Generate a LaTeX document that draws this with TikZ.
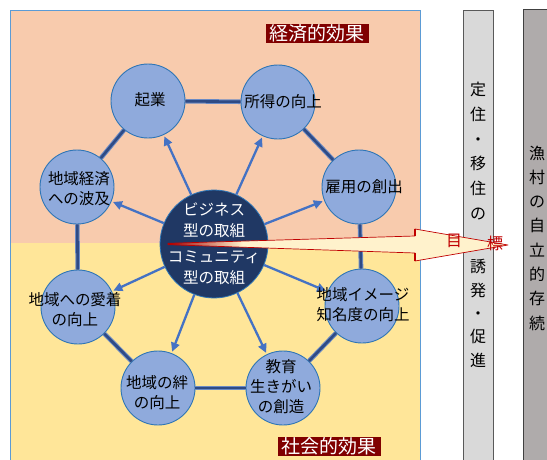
\documentclass[tikz,border=0pt]{standalone}
\usepackage{fontspec}
\setmainfont{Noto Sans CJK JP}
\usetikzlibrary{arrows.meta}
\definecolor{salmon}{HTML}{F8CBAD}
\definecolor{pyellow}{HTML}{FFE699}
\definecolor{pborder}{HTML}{5B9BD5}
\definecolor{cfill}{HTML}{8FAADC}
\definecolor{cborder}{HTML}{2E75B6}
\definecolor{cnavy}{HTML}{203864}
\definecolor{ablue}{HTML}{4472C4}
\definecolor{ringdark}{HTML}{2F4B85}
\definecolor{ringlight}{HTML}{6A8AC4}
\definecolor{lblred}{HTML}{800000}
\definecolor{barone}{HTML}{D9D9D9}
\definecolor{bartwo}{HTML}{AFABAB}
\definecolor{arrred}{HTML}{C00000}
\definecolor{arrdark}{HTML}{A00000}
\definecolor{arrcream}{HTML}{FFF2CC}
\pgfdeclarehorizontalshading{bigarrowshade}{100bp}{color(0bp)=(arrdark); color(25bp)=(arrdark); color(36bp)=(arrcream); color(100bp)=(arrcream)}
\tikzset{
  ring/.style={circle, fill=cfill, draw=cborder, line width=0.9pt, minimum size=74pt, inner sep=0pt},
  ctext/.style={align=center, font=\fontsize{15.5}{20}\selectfont, text=black, inner sep=0pt},
  link/.style={draw=ringlight, double=ringdark, line width=1pt, double distance=2.6pt},
  spoke/.style={draw=ablue, line width=2.3pt, -{Triangle[length=9pt,width=8.5pt]}, shorten >=1.5pt},
  lbl/.style={fill=lblred, text=white, font=\fontsize{19}{19}\selectfont, inner sep=0pt, minimum height=19pt, minimum width=103pt},
  vtextA/.style={align=center, font=\fontsize{16}{24.8}\selectfont, inner sep=0pt},
  vtextB/.style={align=center, font=\fontsize{16}{23.3}\selectfont, inner sep=0pt},
  vtextC/.style={align=center, font=\fontsize{16}{24.3}\selectfont, inner sep=0pt},
}
\begin{document}
\begin{tikzpicture}[x=1pt,y=-1pt]
\useasboundingbox (0,0) rectangle (547,459);
% panels
\fill[salmon] (10,10) rectangle (420,243);
\fill[pyellow] (10,243) rectangle (420,462);
\draw[pborder, line width=0.8pt] (10,462) -- (10,10) -- (420,10) -- (420,462);
% bars
\draw[fill=barone, draw=black!65, line width=0.8pt] (463,10) rectangle (493,462);
\draw[fill=bartwo, draw=black!75, line width=0.8pt] (523,9) rectangle (560,462);
% circles
\node[ring] (n1) at (148,101) {};
\node[ring] (n2) at (278,102) {};
\node[ring] (n3) at (359,187) {};
\node[ring] (n4) at (362,306) {};
\node[ring] (n5) at (283,388) {};
\node[ring] (n6) at (158,388) {};
\node[ring] (n7) at (78,307) {};
\node[ring] (n8) at (77,187) {};
% ring links
\draw[link] (n1) -- (n2);
\draw[link] (n2) -- (n3);
\draw[link] (n3) -- (n4);
\draw[link] (n4) -- (n5);
\draw[link] (n5) -- (n6);
\draw[link] (n6) -- (n7);
\draw[link] (n7) -- (n8);
\draw[link] (n8) -- (n1);
% center
\node[circle, fill=cnavy, draw=cborder, line width=0.8pt, minimum size=108pt, inner sep=0pt] (c) at (214,244) {};
% spokes
\foreach \t in {n1,n2,n3,n4,n5,n6,n7,n8} \draw[spoke] (c) -- (\t);
% big arrow
\shade[shading=bigarrowshade] (168,243.3) -- (415,236) -- (415,229) -- (508,245) -- (415,261) -- (415,253) -- (168,244.7) -- cycle;
\draw[arrred, line width=0.7pt, line join=round] (168,243.3) -- (415,236) -- (415,229) -- (508,245) -- (415,261) -- (415,253) -- (168,244.7) -- cycle;
\draw[arrred, line width=2.2pt] (415,229) -- (415,236);
\draw[arrred, line width=2.2pt] (415,253) -- (415,261);
\node[text=arrred, font=\fontsize{16}{16}\selectfont, inner sep=0pt] (g1) at (454,241) {目};
\node[text=arrred, font=\fontsize{16}{16}\selectfont, inner sep=0pt] (g2) at (495,243) {標};
% circle texts
\node[ctext] (t1) at (150,100) {起業};
\node[ctext] (t2) at (283,102) {所得の向上};
\node[ctext] (t3) at (364,187) {雇用の創出};
\node[ctext] (t4) at (363,305) {地域イメージ\\知名度の向上};
\node[ctext] (t5) at (281,387) {教育\\生きがい\\の創造};
\node[ctext] (t6) at (157,393) {地域の絆\\の向上};
\node[ctext] (t7) at (75,310) {地域への愛着\\の向上};
\node[ctext] (t8) at (79,189) {地域経済\\への波及};
\node[ctext, text=white, font=\fontsize{15.5}{21}\selectfont] (ct) at (214,243.5) {ビジネス\\型の取組\\[5pt]コミュニティ\\型の取組};
% labels
\node[lbl] (l1) at (317,33) {経済的効果};
\node[lbl] (l2) at (329,446) {社会的効果};
% vertical texts
\node[vtextA] (v1) at (478,151) {定\\住\\・\\移\\住\\の};
\node[vtextB] (v2) at (478,313.5) {誘\\発\\・\\促\\進};
\node[vtextC] (v3) at (537,238) {漁\\村\\の\\自\\立\\的\\存\\続};
\end{tikzpicture}
\end{document}
